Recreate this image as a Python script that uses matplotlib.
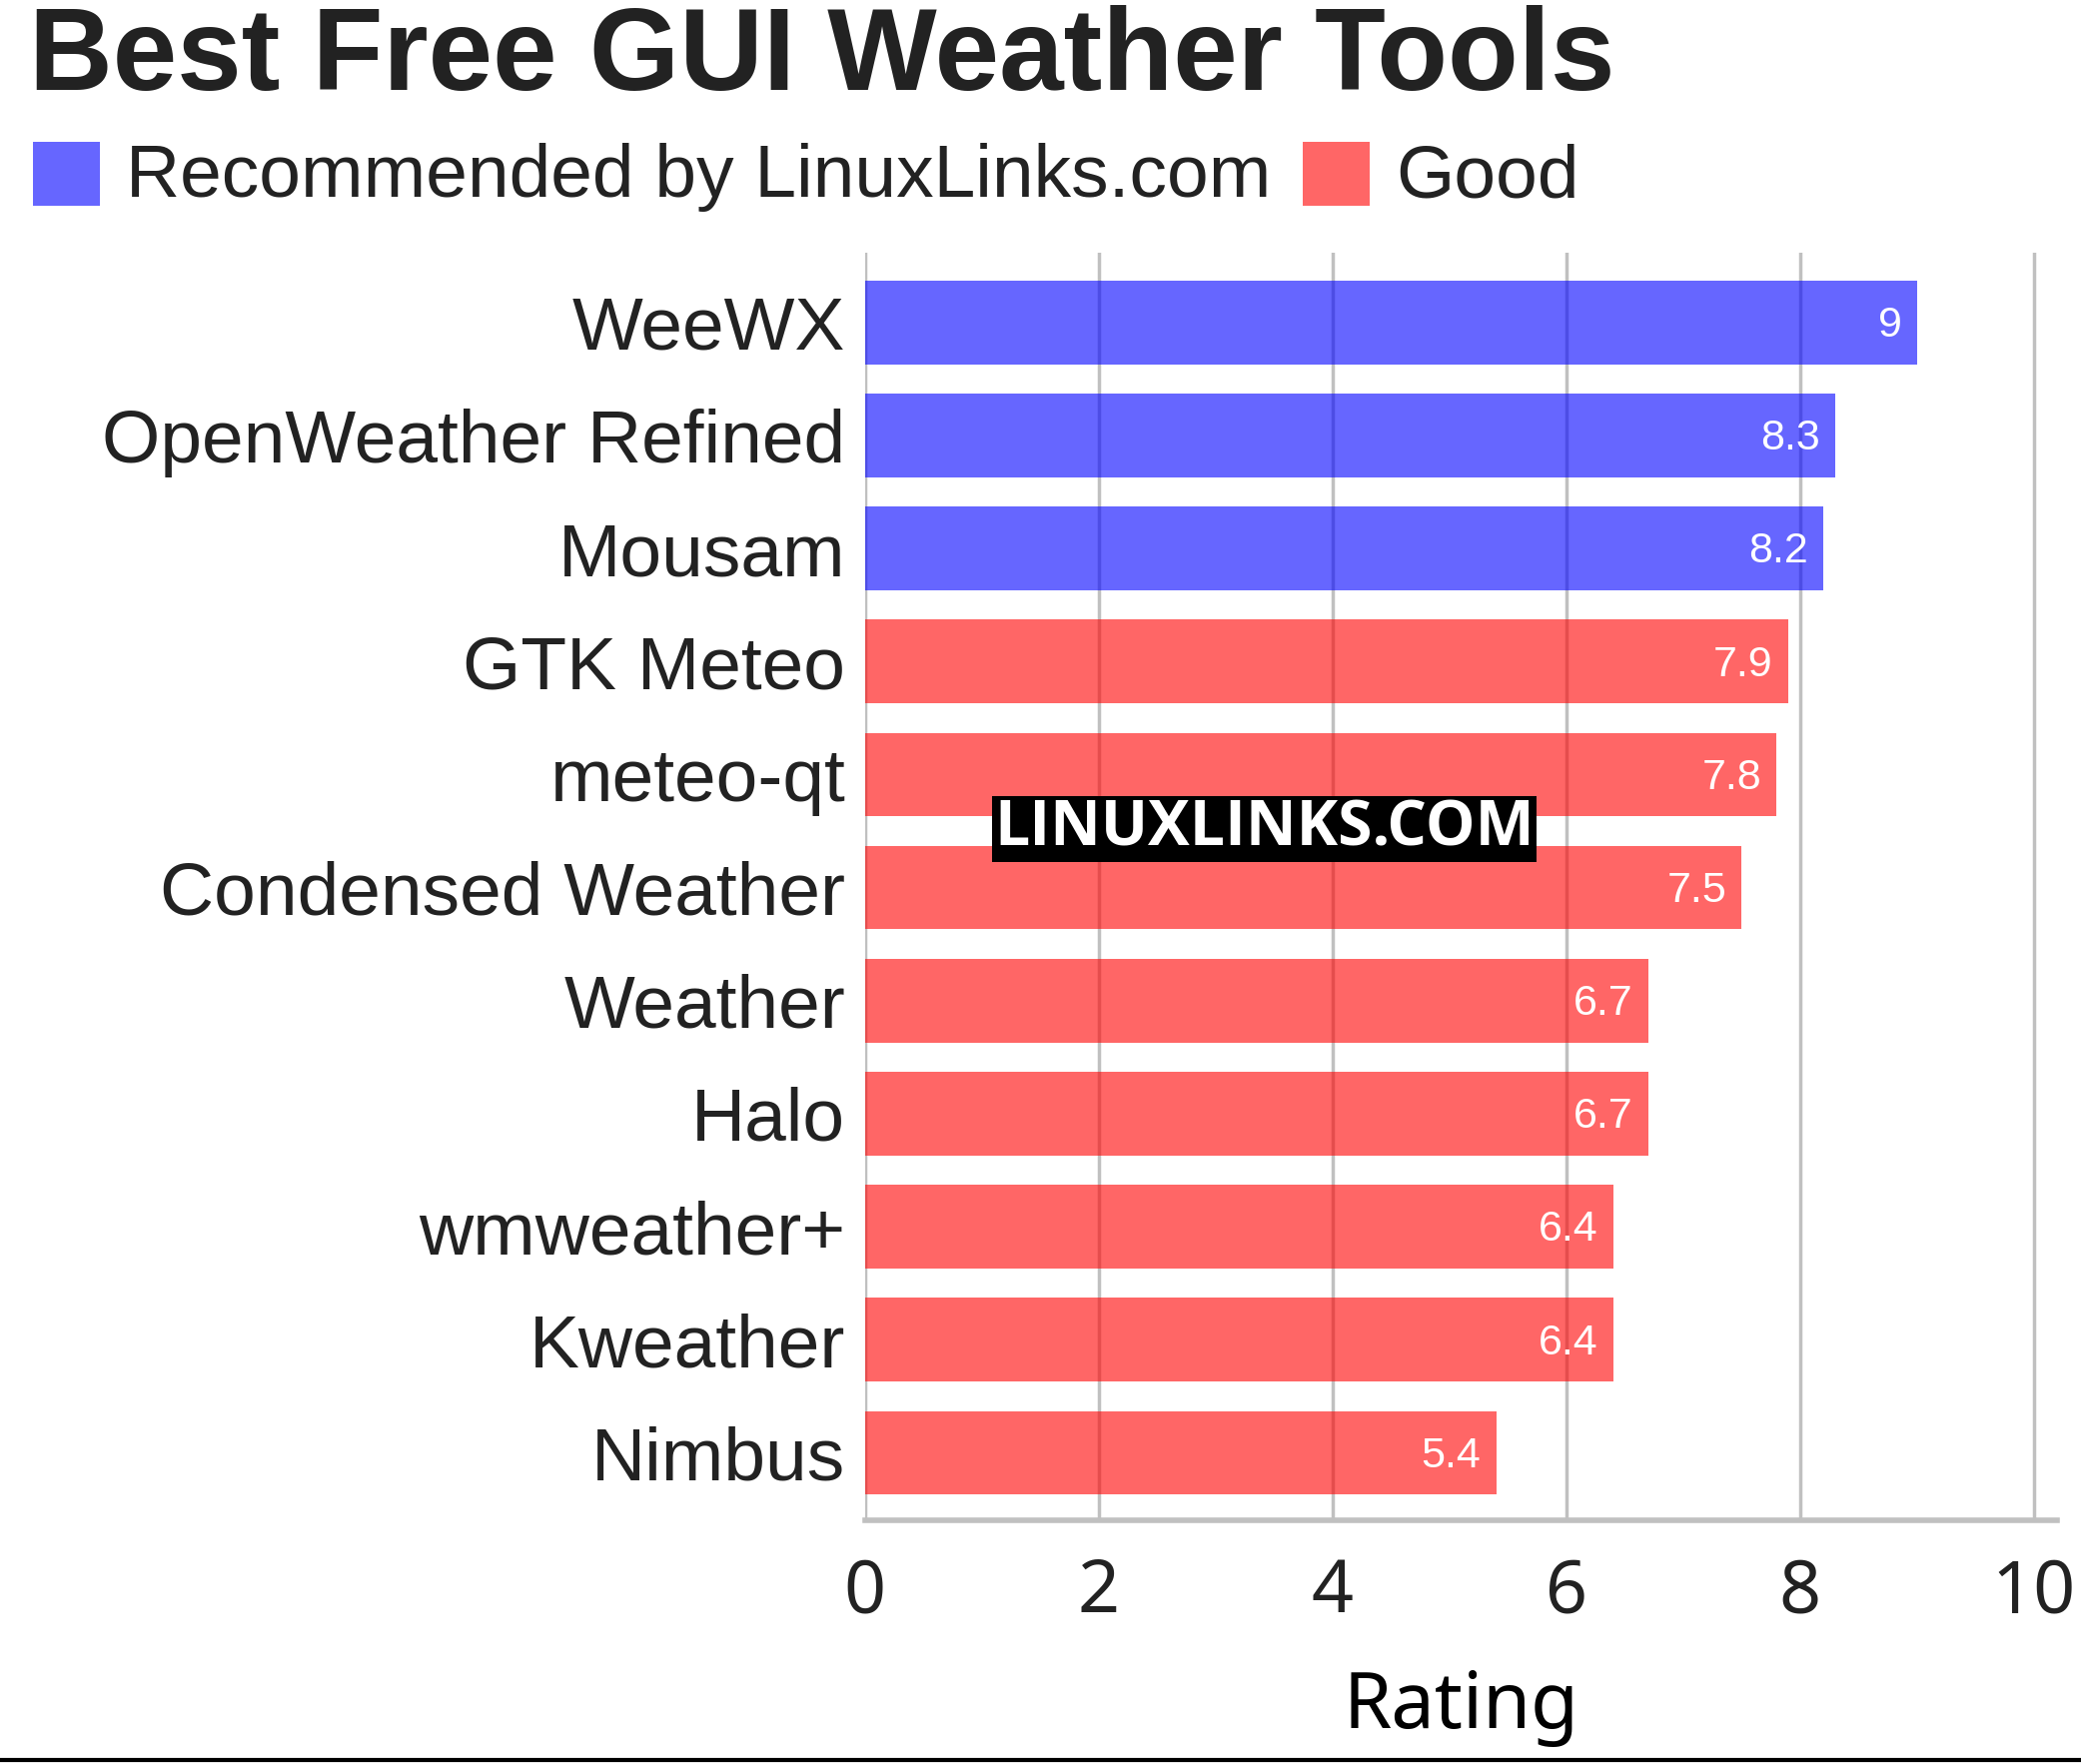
import matplotlib.pyplot as plt
from matplotlib.patches import Rectangle
from matplotlib.lines import Line2D

tools = ['WeeWX', 'OpenWeather Refined', 'Mousam', 'GTK Meteo', 'meteo-qt',
         'Condensed Weather', 'Weather', 'Halo', 'wmweather+', 'Kweather', 'Nimbus']
ratings = [9, 8.3, 8.2, 7.9, 7.8, 7.5, 6.7, 6.7, 6.4, 6.4, 5.4]
groups = ['rec', 'rec', 'rec', 'good', 'good', 'good', 'good', 'good', 'good', 'good', 'good']
group_names = {'rec': 'Recommended by LinuxLinks.com', 'good': 'Good'}
group_colors = {'rec': (0, 0, 1, 0.6), 'good': (1, 0, 0, 0.6)}

txt = '#222222'
arial = 'Liberation Sans'

fig = plt.figure(figsize=(20.83, 17.66), dpi=100)
ax = fig.add_axes([0.4157, 0.138, 0.9885 - 0.4157, 0.857 - 0.138])

ypos = list(range(len(tools)))
colors = [group_colors[g] for g in groups]
ax.barh(ypos, ratings, height=0.74, color=colors, zorder=2)
for y, v in zip(ypos, ratings):
    ax.text(v - 0.13, y + 0.03, f'{v:g}', color='white', ha='right', va='center',
            fontsize=31, family=arial, zorder=3)

ax.set_xlim(0, 10.2)
ax.set_ylim(10.6, -0.62)
ax.set_xticks([0, 2, 4, 6, 8, 10])
ax.set_yticks(ypos)
ax.set_yticklabels(tools, family=arial, fontsize=54, color=txt)
ax.tick_params(axis='y', length=0, pad=14)
ax.tick_params(axis='x', length=0, pad=26, labelsize=53, labelcolor=txt)
for lab in ax.get_xticklabels():
    lab.set_family('Noto Sans')
ax.grid(axis='x', color='#c0c0c0', linewidth=2.5, zorder=1)
ax.set_axisbelow(True)
for s in ['top', 'right', 'left']:
    ax.spines[s].set_visible(False)
ax.spines['bottom'].set_color('#c0c0c0')
ax.spines['bottom'].set_linewidth(4)
ax.set_xlabel('Rating', family='Noto Sans', fontsize=56, color='black', labelpad=27)

# title
fig.text(0.014, 0.997, 'Best Free GUI Weather Tools', family=arial, fontweight='bold',
         fontsize=83.5, color=txt, ha='left', va='top')

# legend
fig.add_artist(Rectangle((33 / 2083, 1 - 206 / 1766), 67 / 2083, 64 / 1766,
                         transform=fig.transFigure, color=group_colors['rec'], lw=0))
fig.text(126 / 2083, 1 - 178 / 1766, group_names['rec'], family=arial, fontsize=54,
         color=txt, ha='left', va='center')
fig.add_artist(Rectangle((1304 / 2083, 1 - 206 / 1766), 67 / 2083, 64 / 1766,
                         transform=fig.transFigure, color=group_colors['good'], lw=0))
fig.text(1397 / 2083, 1 - 178 / 1766, group_names['good'], family=arial, fontsize=54,
         color=txt, ha='left', va='center')

# watermark
fig.text(0.6075, 1 - 830 / 1766, 'LINUXLINKS.COM', family='Open Sans', fontweight='bold',
         fontsize=45, color='white', ha='center', va='center',
         bbox=dict(boxstyle='square,pad=0.03', facecolor='black', edgecolor='none'))

fig.add_artist(Line2D([0, 1], [0.002, 0.002], transform=fig.transFigure, color='black', lw=3))

fig.savefig('out.png', dpi=100, facecolor='white')
